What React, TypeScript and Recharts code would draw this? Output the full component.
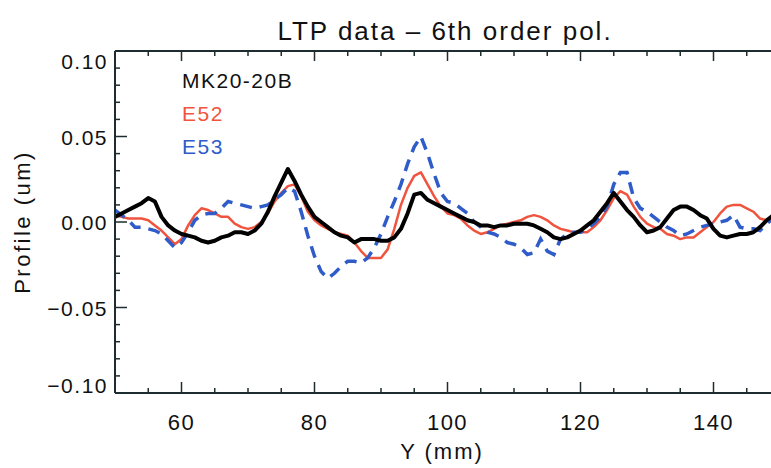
import { LineChart, Line, XAxis, YAxis } from 'recharts';

// Y position along the mirror (mm), 1 mm steps
const yMm = [
  50, 51, 52, 53, 54, 55, 56, 57, 58, 59,
  60, 61, 62, 63, 64, 65, 66, 67, 68, 69,
  70, 71, 72, 73, 74, 75, 76, 77, 78, 79,
  80, 81, 82, 83, 84, 85, 86, 87, 88, 89,
  90, 91, 92, 93, 94, 95, 96, 97, 98, 99,
  100, 101, 102, 103, 104, 105, 106, 107, 108, 109,
  110, 111, 112, 113, 114, 115, 116, 117, 118, 119,
  120, 121, 122, 123, 124, 125, 126, 127, 128, 129,
  130, 131, 132, 133, 134, 135, 136, 137, 138, 139,
  140, 141, 142, 143, 144, 145, 146, 147, 148, 149, 150,
];

const mk20 = [
  0.003, 0.005, 0.007, 0.009, 0.011, 0.014, 0.012, 0.003, -0.002, -0.005,
  -0.007, -0.008, -0.009, -0.011, -0.012, -0.011, -0.009, -0.008, -0.006, -0.006,
  -0.007, -0.005, -0.001, 0.006, 0.015, 0.023, 0.031, 0.024, 0.016, 0.009,
  0.003, 0.0, -0.003, -0.006, -0.008, -0.009, -0.012, -0.01, -0.01, -0.01,
  -0.011, -0.011, -0.009, -0.004, 0.005, 0.016, 0.017, 0.013, 0.011, 0.009,
  0.007, 0.005, 0.003, 0.001, 0.0, -0.002, -0.002, -0.003, -0.002, -0.002,
  -0.001, -0.001, -0.001, -0.002, -0.004, -0.006, -0.009, -0.01, -0.009, -0.007,
  -0.005, -0.002, 0.001, 0.006, 0.011, 0.017, 0.012, 0.007, 0.003, -0.002,
  -0.006, -0.005, -0.003, 0.002, 0.007, 0.009, 0.009, 0.007, 0.004, 0.002,
  -0.004, -0.008, -0.009, -0.008, -0.007, -0.007, -0.006, -0.003, 0.001, 0.004, 0.006,
];

const e52 = [
  0.004, 0.003, 0.002, 0.002, 0.002, 0.001, -0.002, -0.005, -0.009, -0.013,
  -0.01, -0.002, 0.004, 0.008, 0.007, 0.005, 0.003, 0.003, -0.001, -0.003,
  -0.004, -0.003, 0.0, 0.005, 0.012, 0.017, 0.021, 0.022, 0.015, 0.006,
  0.001, -0.002, -0.004, -0.006, -0.007, -0.008, -0.012, -0.017, -0.021, -0.021,
  -0.021, -0.016, -0.004, 0.01, 0.02, 0.027, 0.029, 0.022, 0.015, 0.009,
  0.005, 0.004, 0.002, -0.002, -0.005, -0.007, -0.006, -0.004, -0.002, -0.001,
  0.0, 0.001, 0.003, 0.004, 0.003, 0.001, -0.002, -0.004, -0.005, -0.006,
  -0.006, -0.006, -0.003, 0.001, 0.007, 0.014, 0.018, 0.016, 0.009, 0.003,
  -0.001, -0.003, -0.004, -0.007, -0.008, -0.01, -0.009, -0.009, -0.006, -0.003,
  0.0, 0.005, 0.009, 0.01, 0.01, 0.008, 0.006, 0.002, 0.001, 0.001, 0.001,
];

const e53 = [
  0.007, 0.004, 0.001, -0.003, -0.003, -0.004, -0.005, -0.007, -0.011, -0.015,
  -0.012, -0.006, 0.001, 0.004, 0.005, 0.005, 0.008, 0.012, 0.011, 0.01,
  0.009, 0.008, 0.009, 0.01, 0.013, 0.016, 0.02, 0.018, 0.006, -0.008,
  -0.02, -0.029, -0.033, -0.03, -0.026, -0.023, -0.023, -0.024, -0.021, -0.015,
  -0.007, 0.003, 0.012, 0.022, 0.034, 0.044, 0.05, 0.04, 0.028, 0.017,
  0.012, 0.011, 0.008, 0.005, 0.0, -0.003, -0.006, -0.007, -0.009, -0.012,
  -0.013, -0.015, -0.019, -0.018, -0.01, -0.017, -0.019, -0.01, -0.007, -0.006,
  -0.006, -0.004, -0.001, 0.003, 0.009, 0.022, 0.029, 0.029, 0.014, 0.008,
  0.006, 0.003, 0.0, -0.003, -0.005, -0.008, -0.007, -0.005, -0.003, -0.002,
  -0.001, 0.0, 0.001, 0.004, -0.003, -0.004, -0.004, -0.005, -0.001, 0.002, 0.004,
];

const xTicks = [50, 55, 60, 65, 70, 75, 80, 85, 90, 95, 100, 105, 110, 115, 120, 125, 130, 135, 140, 145, 150];
const xLabelTicks = [60, 80, 100, 120, 140];
const yTicks = [
  -0.1, -0.09, -0.08, -0.07, -0.06, -0.05, -0.04, -0.03, -0.02, -0.01, 0,
  0.01, 0.02, 0.03, 0.04, 0.05, 0.06, 0.07, 0.08, 0.09, 0.1,
];
const yLabelTicks = [-0.1, -0.05, 0, 0.05, 0.1];

const data = yMm.map((x, i) => ({ x, mk20: mk20[i], e52: e52[i], e53: e53[i] }));

const AXIS = '#1e2c30';
const RED = '#f0543e';
const BLUE = '#2f5cc8';
const FONT = '"Liberation Sans", Arial, sans-serif';

const isMajorX = (v: number) => xLabelTicks.includes(v);
const isMajorY = (v: number) => yLabelTicks.some((t) => Math.abs(t - v) < 1e-9);
const fmtY = (v: number) => v.toFixed(2).replace('-', '\u2212');

const BottomTick = (props: any) => {
  const { x, y, payload } = props;
  const major = isMajorX(payload.value);
  return (
    <g>
      <line x1={x} x2={x} y1={y} y2={y - (major ? 11 : 5)} stroke={AXIS} strokeWidth={1.5} />
      {major && (
        <text x={x} y={y + 37} textAnchor="middle" fontFamily={FONT} fontSize={22} letterSpacing={1.5} fill="#111">
          {payload.value}
        </text>
      )}
    </g>
  );
};

const TopTick = (props: any) => {
  const { x, y, payload } = props;
  const major = isMajorX(payload.value);
  return <line x1={x} x2={x} y1={y} y2={y + (major ? 10 : 5)} stroke={AXIS} strokeWidth={1.5} />;
};

const LeftTick = (props: any) => {
  const { x, y, payload } = props;
  const v = payload.value;
  const major = isMajorY(v);
  // IDL nudges the end labels inside the frame
  const shift = v > 0.099 ? 10 : v < -0.099 ? -8 : 0;
  return (
    <g>
      <line x1={x} x2={x + (major ? 12 : 5)} y1={y} y2={y} stroke={AXIS} strokeWidth={1.5} />
      {major && (
        <text x={x - 7} y={y + 8 + shift} textAnchor="end" fontFamily={FONT} fontSize={21} letterSpacing={1.5} fill="#111">
          {fmtY(v)}
        </text>
      )}
    </g>
  );
};

const RightTick = (props: any) => {
  const { x, y, payload } = props;
  const major = isMajorY(payload.value);
  return <line x1={x} x2={x - (major ? 12 : 5)} y1={y} y2={y} stroke={AXIS} strokeWidth={1.5} />;
};

const textStyle = { position: 'absolute' as const, fontFamily: FONT, color: '#111', whiteSpace: 'nowrap' as const, lineHeight: 1 };

const App = () => {
  return (
    <div style={{ position: 'absolute', left: 0, top: 0, width: 771, height: 468, overflow: 'hidden', background: '#fff' }}>
      <LineChart width={790} height={468} data={data} margin={{ top: 21, right: 10, bottom: 0, left: 0 }}>
        <XAxis
          dataKey="x"
          type="number"
          domain={[50, 150]}
          ticks={xTicks}
          interval={0}
          allowDataOverflow
          height={75}
          tickSize={0}
          tickMargin={0}
          tickLine={false}
          axisLine={{ stroke: AXIS, strokeWidth: 2 }}
          tick={<BottomTick />}
        />
        <XAxis
          xAxisId="top"
          orientation="top"
          dataKey="x"
          type="number"
          domain={[50, 150]}
          ticks={xTicks}
          interval={0}
          allowDataOverflow
          height={30}
          tickSize={0}
          tickMargin={0}
          tickLine={false}
          axisLine={{ stroke: AXIS, strokeWidth: 2 }}
          tick={<TopTick />}
        />
        <YAxis
          type="number"
          domain={[-0.1, 0.1]}
          ticks={yTicks}
          interval={0}
          allowDataOverflow
          width={115}
          tickSize={0}
          tickMargin={0}
          tickLine={false}
          axisLine={{ stroke: AXIS, strokeWidth: 2 }}
          tick={<LeftTick />}
        />
        <YAxis
          yAxisId="right"
          orientation="right"
          type="number"
          domain={[-0.1, 0.1]}
          ticks={yTicks}
          interval={0}
          allowDataOverflow
          width={0}
          tickSize={0}
          tickMargin={0}
          tickLine={false}
          axisLine={{ stroke: AXIS, strokeWidth: 2 }}
          tick={<RightTick />}
        />
        <Line type="linear" dataKey="e52" stroke={RED} strokeWidth={2.5} dot={false} isAnimationActive={false} strokeLinejoin="round" />
        <Line type="linear" dataKey="e53" stroke={BLUE} strokeWidth={3.5} strokeDasharray="12 8" dot={false} isAnimationActive={false} />
        <Line type="linear" dataKey="mk20" stroke="#000" strokeWidth={4} dot={false} isAnimationActive={false} strokeLinejoin="round" />
      </LineChart>

      <div style={{ ...textStyle, left: 0, width: 890, top: 18, textAlign: 'center', fontSize: 26, letterSpacing: 2 }}>
        LTP data – 6th order pol.
      </div>
      <div style={{ ...textStyle, left: 182, top: 70, fontSize: 21, letterSpacing: 1.5 }}>MK20-20B</div>
      <div style={{ ...textStyle, left: 182, top: 103, fontSize: 21, letterSpacing: 1.5, color: RED }}>E52</div>
      <div style={{ ...textStyle, left: 182, top: 136, fontSize: 21, letterSpacing: 1.5, color: BLUE }}>E53</div>
      <div style={{ ...textStyle, left: 442, top: 452, transform: 'translate(-50%, -50%)', fontSize: 22, letterSpacing: 2 }}>
        Y (mm)
      </div>
      <div
        style={{
          ...textStyle,
          left: 23,
          top: 222,
          transform: 'translate(-50%, -50%) rotate(-90deg)',
          fontSize: 22,
          letterSpacing: 2.5,
        }}
      >
        Profile (um)
      </div>
    </div>
  );
};

export default App;
